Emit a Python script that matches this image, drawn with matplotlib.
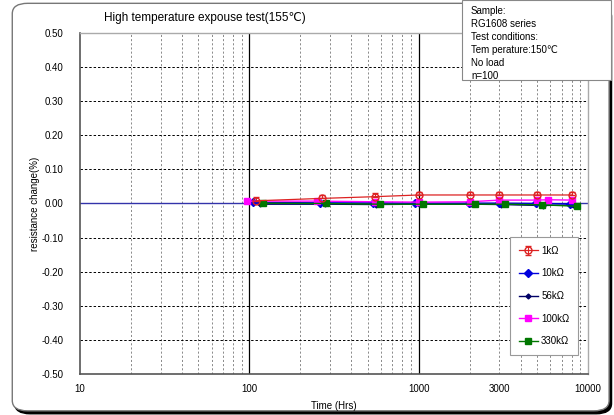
import matplotlib
matplotlib.use("Agg")
import matplotlib.pyplot as plt
from matplotlib.patches import FancyBboxPatch, Rectangle

plt.rcParams['font.family'] = ['Liberation Sans', 'DejaVu Sans']

# data
t_1k = [110, 270, 550, 1000, 2000, 3000, 5000, 8000]
v_1k = [0.008, 0.015, 0.020, 0.025, 0.025, 0.025, 0.025, 0.025]
err_1k = [0.010, 0.010, 0.010, 0.010, 0.010, 0.010, 0.010, 0.010]

t_10k = [105, 260, 540, 950, 1980, 2980, 4950, 7800]
v_10k = [0.003, 0.002, 0.002, 0.001, 0.001, 0.001, 0.000, -0.001]

t_56k = [115, 280, 560, 1000, 2050, 3050, 5400, 8200]
v_56k = [-0.002, -0.002, -0.003, -0.002, -0.002, -0.003, -0.006, -0.004]

t_100k = [97, 250, 550, 1000, 2000, 3000, 5000, 5800, 8000]
v_100k = [0.007, 0.007, 0.005, 0.004, 0.005, 0.010, 0.010, 0.011, 0.010]

t_330k = [120, 285, 590, 1060, 2140, 3230, 5340, 8600]
v_330k = [0.001, 0.000, -0.002, -0.002, -0.002, -0.002, -0.004, -0.008]

x_ticks = [10, 100, 1000, 3000, 10000]
x_labels = ["10", "100", "1000", "3000", "10000"]
y_ticks = [-0.5, -0.4, -0.3, -0.2, -0.1, 0.0, 0.1, 0.2, 0.3, 0.4, 0.5]

fig = plt.figure(figsize=(6.14, 4.15), dpi=100)

# rounded outer frame with shadow
shadow = FancyBboxPatch((0.024, 0.003), 0.972, 0.982, boxstyle="round,pad=0,rounding_size=0.025",
                        transform=fig.transFigure, facecolor="black", edgecolor="black", zorder=-2)
frame = FancyBboxPatch((0.020, 0.010), 0.972, 0.982, boxstyle="round,pad=0,rounding_size=0.025",
                       transform=fig.transFigure, facecolor="white", edgecolor="#777777", lw=1, zorder=-1)
fig.patches.extend([shadow, frame])

ax = fig.add_axes([80/614, 1 - 374/415, 508/614, 341/415])
ax.set_xscale("log")
ax.set_xlim(10, 10000)
ax.set_ylim(-0.5, 0.5)

# vertical grid
for dec in [10, 100, 1000]:
    for m in range(2, 10):
        ax.axvline(dec * m, color="#777777", lw=0.6, ls=(0, (2.5, 2.5)), zorder=1)
for v in [100, 1000]:
    ax.axvline(v, color="black", lw=0.9, zorder=1)
# horizontal grid
for y in y_ticks[1:-1]:
    if y != 0:
        ax.axhline(y, color="black", lw=0.7, ls=(0, (2.5, 2)), zorder=1)
ax.axhline(0, color="#3333aa", lw=1.0, zorder=2)

ax.plot(t_56k, v_56k, color="#000066", marker="D", ms=2.5, lw=1.0, label="56kΩ", zorder=3)
ax.plot(t_10k, v_10k, color="#0000dd", marker="D", ms=4.5, lw=1.0, label="10kΩ", zorder=4)
ax.errorbar(t_1k, v_1k, yerr=[[0]*len(err_1k), err_1k], color="#dd2222", marker="o", ms=5,
            mfc="none", lw=0.9, capsize=2.5, elinewidth=0.8, label="1kΩ", zorder=5)
ax.plot(t_100k, v_100k, color="#ff00ff", marker="s", ms=5, lw=1.0, label="100kΩ", zorder=4)
ax.plot(t_330k, v_330k, color="#007700", marker="s", ms=5, lw=1.0, label="330kΩ", zorder=4)

ax.set_xticks(x_ticks)
ax.set_xticklabels(x_labels)
ax.xaxis.set_minor_locator(matplotlib.ticker.NullLocator())
ax.set_yticks(y_ticks)
ax.set_yticklabels([f"{v:.2f}" for v in y_ticks])
ax.tick_params(length=0, labelsize=7, pad=7)
ax.tick_params(axis="y", pad=12)
for s in ["left", "bottom"]:
    ax.spines[s].set_color("#555555")
    ax.spines[s].set_linewidth(1.2)
for s in ["top", "right"]:
    ax.spines[s].set_color("#aaaaaa")
    ax.spines[s].set_linewidth(1.0)

ax.set_xlabel("Time (Hrs)", fontsize=7, labelpad=5)
ax.set_ylabel("resistance change(%)", fontsize=7, labelpad=1)

h, l = ax.get_legend_handles_labels()
order = [l.index(n) for n in ["1kΩ", "10kΩ", "56kΩ", "100kΩ", "330kΩ"]]
leg = ax.legend([h[i] for i in order], [l[i] for i in order], loc="lower right",
                bbox_to_anchor=(0.99, 0.041), fontsize=7, fancybox=False,
                edgecolor="#999999", framealpha=1, handlelength=2.0, labelspacing=1.3,
                borderpad=0.9, handletextpad=0.3)
leg.get_frame().set_linewidth(0.8)

fig.text(104/614, 1 - 18/415, "High temperature expouse test(155℃)", fontsize=8.5, va="center")

# annotation box top right
fig.patches.append(Rectangle((462/614, 1 - 80/415), 149/614, 80/415, transform=fig.transFigure,
                             facecolor="white", edgecolor="#888888", lw=0.8, zorder=5))
notes = ["Sample:", "RG1608 series", "Test conditions:", "Tem perature:150℃", "No load", "n=100"]
for i, s in enumerate(notes):
    fig.text(471/614, 1 - (11 + 13 * i)/415, s, fontsize=7, va="center", zorder=6)

fig.savefig("out.png", dpi=100)
